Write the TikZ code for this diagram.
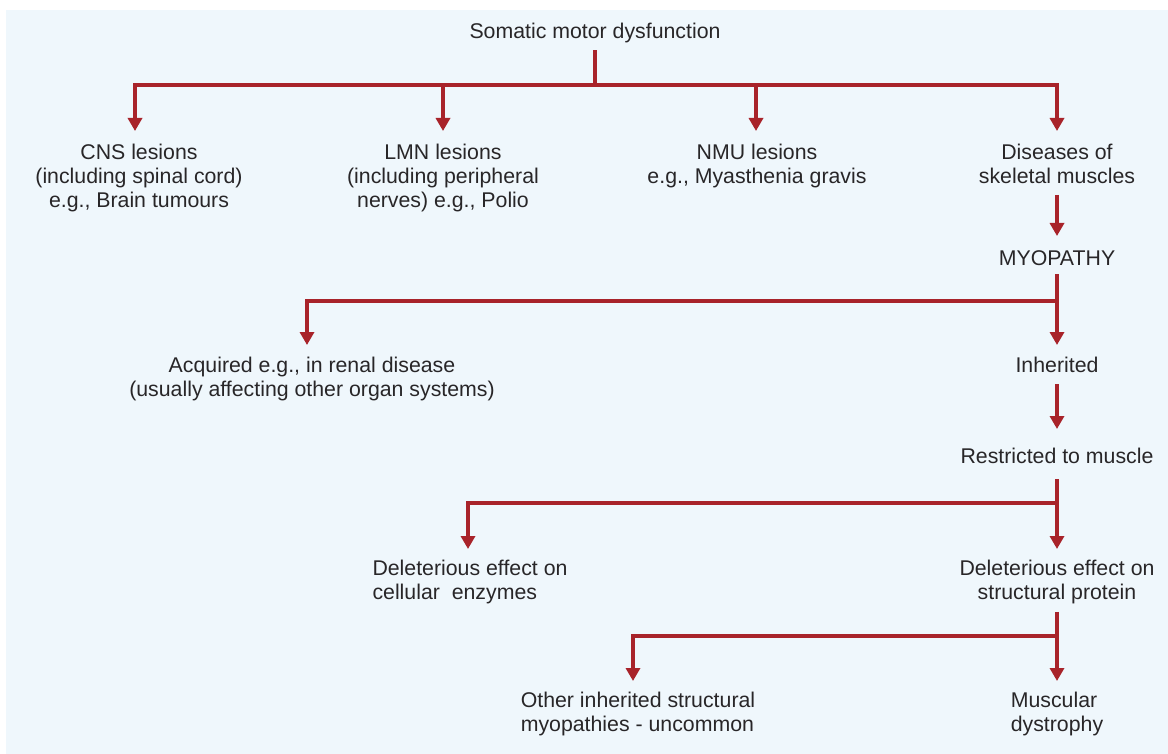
\documentclass[tikz,border=0pt]{standalone}
\usepackage{fontspec}
\setmainfont{Liberation Sans}
\usetikzlibrary{arrows.meta}
\definecolor{bgblue}{RGB}{239,247,252}
\definecolor{linered}{RGB}{168,35,42}
\definecolor{txtgrey}{RGB}{40,38,40}
\tikzset{
  lbl/.style={anchor=north, inner sep=0pt, text=txtgrey, align=center,
    font=\fontsize{21.3}{24}\selectfont,
    execute at begin node={\rule{0pt}{16pt}},
    execute at end node={\rule[-6pt]{0pt}{0pt}}},
  lbll/.style={lbl, align=left},
  ln/.style={draw=linered, line width=3.6pt},
  arr/.style={ln, -{Triangle[width=14pt,length=13pt]}, shorten >=10pt},
}
\begin{document}
\begin{tikzpicture}[x=1pt,y=-1pt]
\useasboundingbox (0,0) rectangle (1168,754);
\fill[bgblue] (6,10) rectangle (1168,754);

\node[lbl] (somatic) at (595,22) {Somatic motor dysfunction};
\node[lbl] (cns) at (139,144) {CNS lesions\\(including spinal cord)\\e.g., Brain tumours};
\node[lbl] (lmn) at (443,144) {LMN lesions\\(including peripheral\\nerves) e.g., Polio};
\node[lbl] (nmu) at (757,144) {NMU lesions\\e.g., Myasthenia gravis};
\node[lbl] (dis) at (1057,144) {Diseases of\\skeletal muscles};
\node[lbl] (myo) at (1057,249) {MYOPATHY};
\node[lbl] (acq) at (312,357) {Acquired e.g., in renal disease\\(usually affecting other organ systems)};
\node[lbl] (inh) at (1057,356) {Inherited};
\node[lbl] (res) at (1057,447) {Restricted to muscle};
\node[lbll] (cel) at (470,560) {Deleterious effect on\\cellular\ \ enzymes};
\node[lbl] (str) at (1057,560) {Deleterious effect on\\structural protein};
\node[lbll] (oth) at (638,692) {Other inherited structural\\myopathies - uncommon};
\node[lbll] (mus) at (1057,692) {Muscular\\dystrophy};

\coordinate (j0) at (595,85);
\coordinate (j1) at (1057,301);
\coordinate (j2) at (1057,503);
\coordinate (j3) at (1057,636);

\draw[ln, shorten <=6pt] (somatic.south) -- (j0);
\draw[arr, shorten >=13pt] (j0) -| ([xshift=-4pt]cns.north);
\draw[arr, shorten >=13pt] (j0) -| (lmn.north);
\draw[arr, shorten >=13pt] (j0) -| ([xshift=-1pt]nmu.north);
\draw[arr, shorten >=13pt] (j0) -| (dis.north);

\draw[arr, shorten <=5pt, shorten >=13pt] (dis.south) -- (myo.north);
\draw[arr, shorten <=3pt, shorten >=11pt] (myo.south) -- (inh.north);
\draw[arr, shorten >=12pt] (j1) -| ([xshift=-5pt]acq.north);

\draw[arr, shorten <=6pt, shorten >=18pt] (inh.south) -- (res.north);
\draw[arr, shorten <=10pt, shorten >=11pt] (res.south) -- (str.north);
\draw[arr, shorten >=11pt] (j2) -| ([xshift=-2pt]cel.north);

\draw[arr, shorten <=6pt, shorten >=11pt] (str.south) -- (mus.north);
\draw[arr, shorten >=11pt] (j3) -| ([xshift=-5pt]oth.north);
\end{tikzpicture}
\end{document}
